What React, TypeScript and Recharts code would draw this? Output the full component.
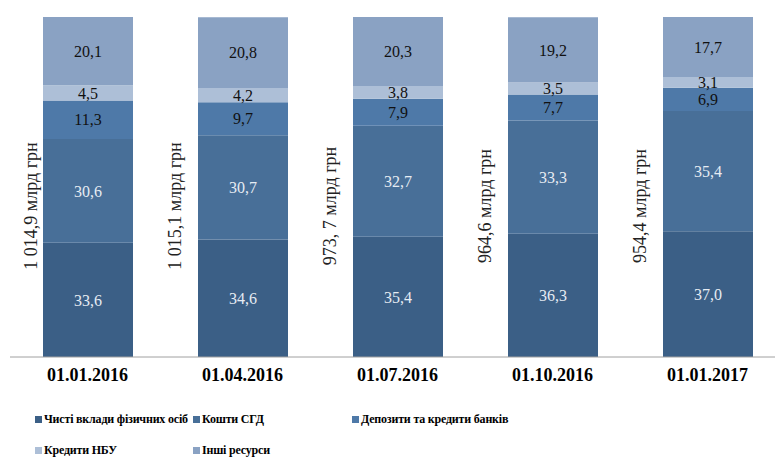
import React from "react";
import { Bar, BarChart, LabelList, XAxis, YAxis } from "recharts";

const dates = ["01.01.2016", "01.04.2016", "01.07.2016", "01.10.2016", "01.01.2017"];
const totals = ["1 014,9  млрд грн", "1 015,1 млрд грн", "973, 7 млрд грн", "964,6 млрд грн", "954,4 млрд грн"];

const deposits = [33.6, 34.6, 35.4, 36.3, 37.0];
const sgd = [30.6, 30.7, 32.7, 33.3, 35.4];
const banks = [11.3, 9.7, 7.9, 7.7, 6.9];
const nbu = [4.5, 4.2, 3.8, 3.5, 3.1];
const other = [20.1, 20.8, 20.3, 19.2, 17.7];

const SERIES = [
  { key: "deposits", name: "Чисті вклади фізичних осіб", color: "#3b5f86", text: "#e6ecf3" },
  { key: "sgd", name: "Кошти СГД", color: "#486f98", text: "#e6ecf3" },
  { key: "banks", name: "Депозити та кредити банків", color: "#4e79a8", text: "#111" },
  { key: "nbu", name: "Кредити НБУ", color: "#adbfd7", text: "#111" },
  { key: "other", name: "Інші ресурси", color: "#8aa2c3", text: "#111" },
];

const data = dates.map((date, i) => ({
  date,
  total: totals[i],
  deposits: deposits[i],
  sgd: sgd[i],
  banks: banks[i],
  nbu: nbu[i],
  other: other[i],
}));

const FONT = "'Liberation Serif', Tinos, 'DejaVu Serif', serif";

const fmt = (v: any) => Number(v).toFixed(1).replace(".", ",");

function TotalLabel(props: any) {
  const { x, value } = props;
  const cx = Math.max(Number(x) - 23, 31);
  const cy = 206;
  return (
    <text
      x={cx}
      y={cy}
      transform={`rotate(-90 ${cx} ${cy})`}
      textAnchor="middle"
      dominantBaseline="central"
      fontSize={18}
      style={{ fontFamily: FONT }}
      fill="#222"
    >
      {value}
    </text>
  );
}

function Legend() {
  const cols = [35, 193, 352];
  return (
    <>
      {SERIES.map((s, i) => (
        <div
          key={s.key}
          style={{
            position: "absolute",
            left: cols[i % 3],
            top: i < 3 ? 412 : 443,
            display: "flex",
            alignItems: "center",
            fontFamily: FONT,
            fontWeight: 700,
            fontSize: 12,
            letterSpacing: -0.2,
            color: "#000",
            whiteSpace: "nowrap",
          }}
        >
          <span style={{ width: 7, height: 7, background: s.color, marginRight: 2, display: "inline-block" }} />
          {s.name}
        </div>
      ))}
    </>
  );
}

export default function App() {
  return (
    <div
      style={{
        position: "fixed",
        left: 0,
        top: 0,
        width: 775,
        height: 458,
        overflow: "hidden",
        background: "#fff",
        fontFamily: FONT,
      }}
    >
      <BarChart
        width={785}
        height={458}
        data={data}
        margin={{ top: 17, right: 0, left: 10, bottom: 71 }}
        barSize={90}
        style={{ fontFamily: FONT }}
      >
        <YAxis hide={false} width={0} domain={[0, 100.1]} tick={false} tickLine={false} axisLine={{ stroke: "#a0a0a0" }} />
        <XAxis
          dataKey="date"
          height={30}
          tickLine={false}
          tickMargin={5}
          axisLine={{ stroke: "#a0a0a0" }}
          tick={{ fontWeight: 700, fontSize: 18, fill: "#000", style: { fontFamily: FONT } }}
          interval={0}
        />
        {SERIES.map((s) => (
          <Bar key={s.key} dataKey={s.key} name={s.name} stackId="a" fill={s.color} isAnimationActive={false}>
            <LabelList
              dataKey={s.key}
              position="center"
              formatter={fmt}
              style={{ fontFamily: FONT, fontSize: 16, fill: s.text }}
            />
            {s.key === "deposits" && <LabelList dataKey="total" content={<TotalLabel />} />}
          </Bar>
        ))}
      </BarChart>
      <Legend />
    </div>
  );
}
